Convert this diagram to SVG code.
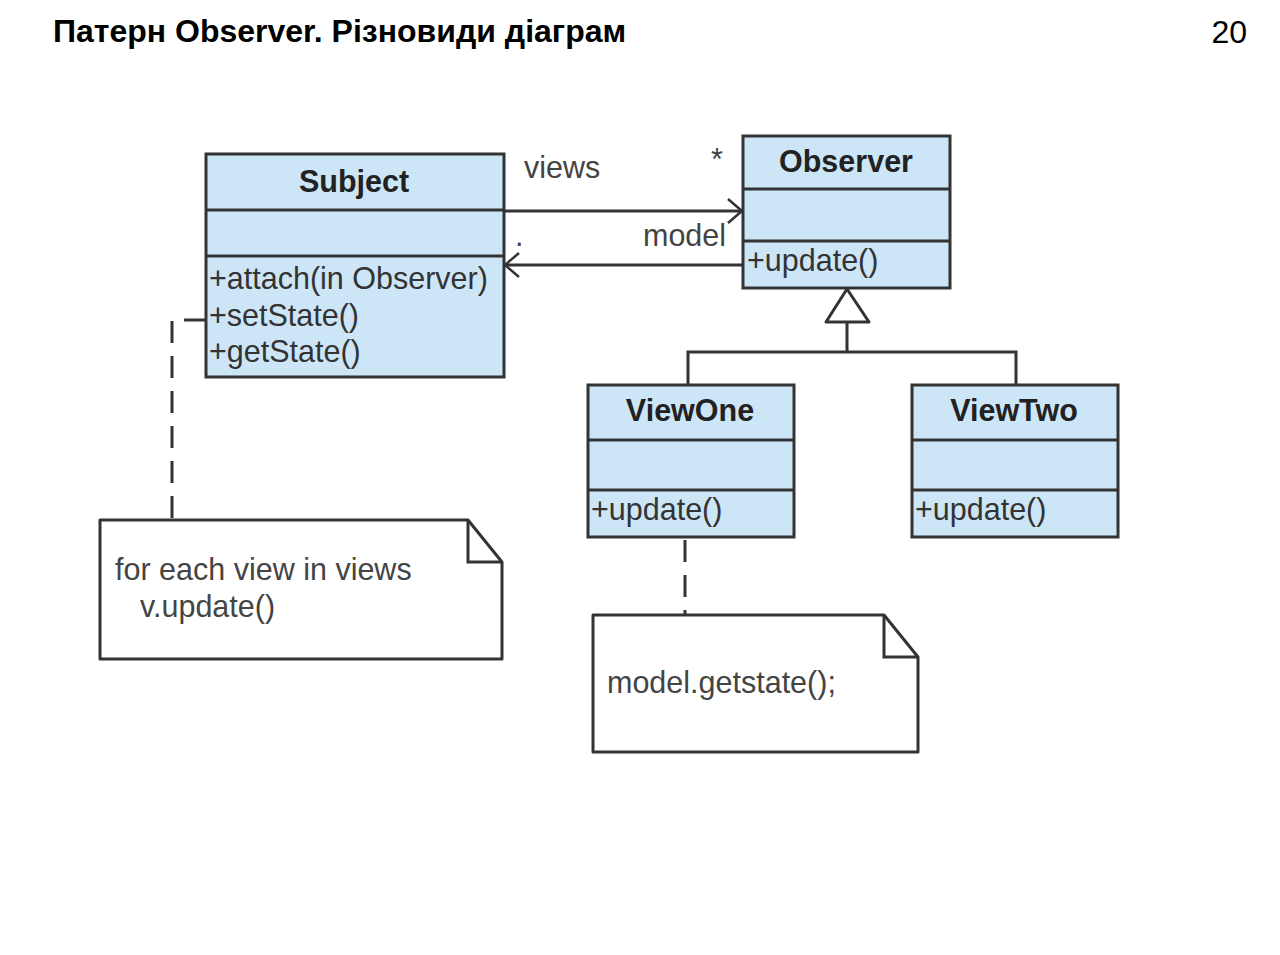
<svg xmlns="http://www.w3.org/2000/svg" width="1280" height="955" viewBox="0 0 1280 955">
<defs>
<style>
.box{fill:#cde6f7;stroke:#333;stroke-width:3}
.div{stroke:#333;stroke-width:3}
.cls{font-family:"Liberation Sans",Arial,sans-serif;font-weight:bold;font-size:30.5px;fill:#222;text-anchor:middle}
.mem{font-family:"Liberation Sans",Arial,sans-serif;font-size:30.5px;fill:#333}
.lbl{font-family:"Liberation Sans",Arial,sans-serif;font-size:30.5px;fill:#444}
.note{fill:#fff;stroke:#333;stroke-width:3;stroke-linejoin:round}
.ln{fill:none;stroke:#333;stroke-width:3}
.dash{fill:none;stroke:#333;stroke-width:3;stroke-dasharray:22 13}
</style>
<marker id="open" viewBox="0 0 16 26" refX="15" refY="13" markerWidth="16" markerHeight="26" markerUnits="userSpaceOnUse" orient="auto">
<path d="M1,1 L15,13 L1,25" fill="none" stroke="#333" stroke-width="2.5"/>
</marker>
</defs>
<rect width="1280" height="955" fill="#fff"/>
<text x="53" y="42" font-family="Liberation Sans,Arial,sans-serif" font-weight="bold" font-size="32" fill="#000">Патерн Observer. Різновиди діаграм</text>
<text x="1247" y="43" font-family="Liberation Sans,Arial,sans-serif" font-size="32" fill="#000" text-anchor="end">20</text>

<g id="connectors">
<line class="ln" x1="504" y1="211" x2="742" y2="211" marker-end="url(#open)"/>
<line class="ln" x1="743" y1="265" x2="505" y2="265" marker-end="url(#open)"/>
<text class="lbl" x="524" y="178">views</text>
<text class="lbl" x="711" y="170">*</text>
<text class="lbl" x="643" y="246">model</text>
<text class="lbl" x="515" y="246">.</text>
<polygon points="847,289 826,322 869,322" fill="#fff" stroke="#333" stroke-width="3" stroke-linejoin="round"/>
<path class="ln" d="M847,322 V352 M688,385 V352 H1016 V385"/>
<path class="dash" d="M206,320 H172 V520"/>
<path class="dash" d="M685,540 V615"/>
</g>

<g id="subject">
<rect class="box" x="206" y="154" width="298" height="223"/>
<line class="div" x1="206" y1="210" x2="504" y2="210"/>
<line class="div" x1="206" y1="256" x2="504" y2="256"/>
<text class="cls" x="354" y="192">Subject</text>
<text class="mem" x="209" y="289">+attach(in Observer)</text>
<text class="mem" x="209" y="326">+setState()</text>
<text class="mem" x="209" y="362">+getState()</text>
</g>

<g id="observer">
<rect class="box" x="743" y="136" width="207" height="152"/>
<line class="div" x1="743" y1="189" x2="950" y2="189"/>
<line class="div" x1="743" y1="241" x2="950" y2="241"/>
<text class="cls" x="846" y="172">Observer</text>
<text class="mem" x="747" y="271">+update()</text>
</g>

<g id="viewone">
<rect class="box" x="588" y="385" width="206" height="152"/>
<line class="div" x1="588" y1="440" x2="794" y2="440"/>
<line class="div" x1="588" y1="490" x2="794" y2="490"/>
<text class="cls" x="690" y="421">ViewOne</text>
<text class="mem" x="591" y="520">+update()</text>
</g>

<g id="viewtwo">
<rect class="box" x="912" y="385" width="206" height="152"/>
<line class="div" x1="912" y1="440" x2="1118" y2="440"/>
<line class="div" x1="912" y1="490" x2="1118" y2="490"/>
<text class="cls" x="1014" y="421">ViewTwo</text>
<text class="mem" x="915" y="520">+update()</text>
</g>

<g id="note1">
<path class="note" d="M100,520 H468 L502,562 V659 H100 Z"/>
<path class="ln" d="M468,520 V562 H502"/>
<text class="lbl" x="115" y="580">for each view in views</text>
<text class="lbl" x="140" y="617">v.update()</text>
</g>

<g id="note2">
<path class="note" d="M593,615 H884 L918,657 V752 H593 Z"/>
<path class="ln" d="M884,615 V657 H918"/>
<text class="lbl" x="607" y="693">model.getstate();</text>
</g>
</svg>
